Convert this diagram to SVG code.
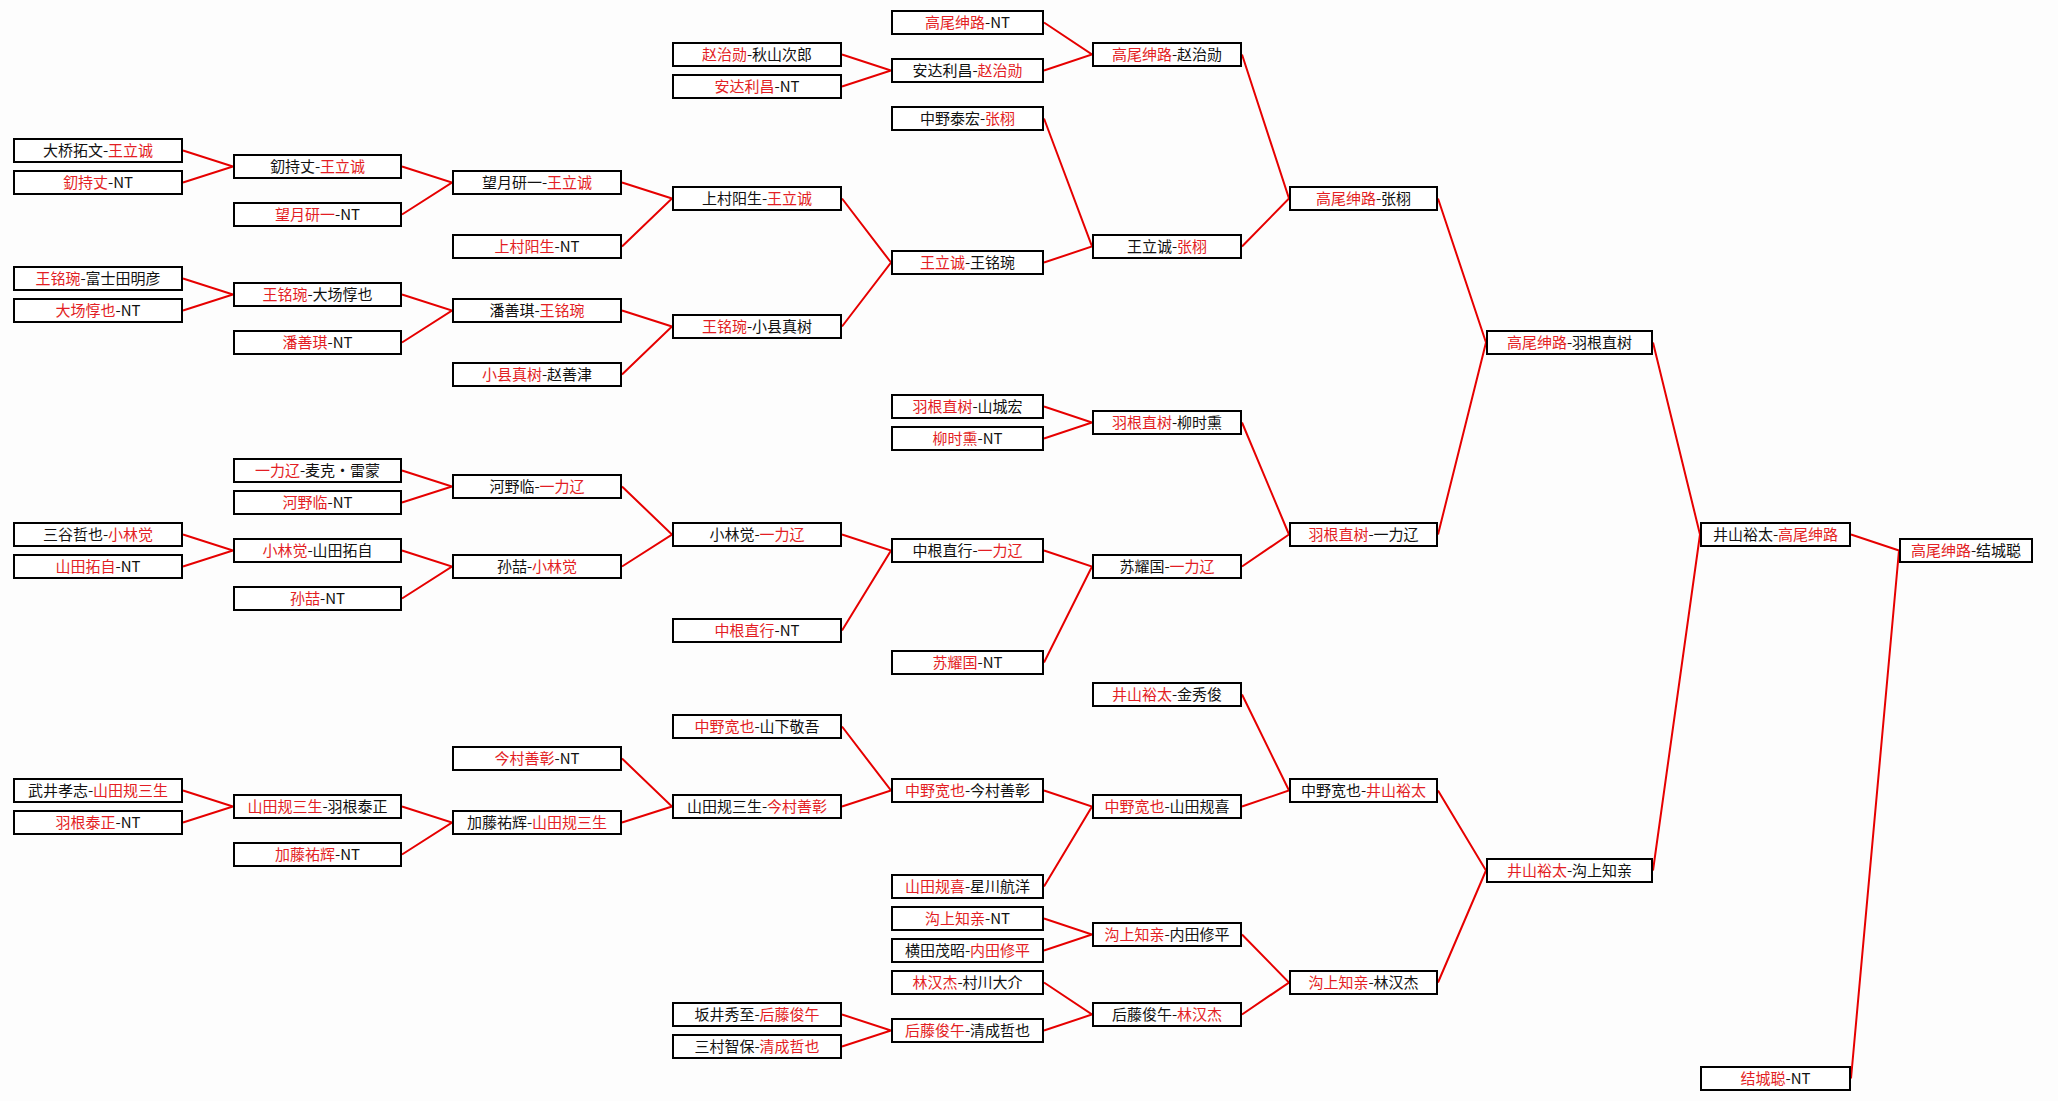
<svg xmlns="http://www.w3.org/2000/svg" width="2058" height="1101" viewBox="0 0 2058 1101">
<style>
.n rect{fill:#fff;stroke:#000;stroke-width:2}
.n text{font-family:"Noto Sans CJK SC","Noto Sans",sans-serif;font-size:15px;fill:#111;text-anchor:middle}
.n .r{fill:#e31e24}
.c path{fill:none;stroke:#e60000;stroke-width:2}
</style>
<rect x="0" y="0" width="2058" height="1101" fill="#fdfdfd"/>
<g id="connectors" class="c">
<path d="M183 150.5 L233 166.5 L183 182.5"/>
<path d="M183 278.5 L233 294.5 L183 310.5"/>
<path d="M183 534.5 L233 550.5 L183 566.5"/>
<path d="M183 790.5 L233 806.5 L183 822.5"/>
<path d="M402 166.5 L452 182.5 L402 214.5"/>
<path d="M402 294.5 L452 310.5 L402 342.5"/>
<path d="M402 470.5 L452 486.5 L402 502.5"/>
<path d="M402 550.5 L452 566.5 L402 598.5"/>
<path d="M402 806.5 L452 822.5 L402 854.5"/>
<path d="M622 182.5 L672 198.5 L622 246.5"/>
<path d="M622 310.5 L672 326.5 L622 374.5"/>
<path d="M622 486.5 L672 534.5 L622 566.5"/>
<path d="M622 758.5 L672 806.5 L622 822.5"/>
<path d="M842 54.5 L891 70.5 L842 86.5"/>
<path d="M842 198.5 L891 262.5 L842 326.5"/>
<path d="M842 534.5 L891 550.5 L842 630.5"/>
<path d="M842 726.5 L891 790.5 L842 806.5"/>
<path d="M842 1014.5 L891 1030.5 L842 1046.5"/>
<path d="M1044 22.5 L1092 54.5 L1044 70.5"/>
<path d="M1044 118.5 L1092 246.5 L1044 262.5"/>
<path d="M1044 406.5 L1092 422.5 L1044 438.5"/>
<path d="M1044 550.5 L1092 566.5 L1044 662.5"/>
<path d="M1044 790.5 L1092 806.5 L1044 886.5"/>
<path d="M1044 918.5 L1092 934.5 L1044 950.5"/>
<path d="M1044 982.5 L1092 1014.5 L1044 1030.5"/>
<path d="M1242 54.5 L1289 198.5 L1242 246.5"/>
<path d="M1242 422.5 L1289 534.5 L1242 566.5"/>
<path d="M1242 694.5 L1289 790.5 L1242 806.5"/>
<path d="M1242 934.5 L1289 982.5 L1242 1014.5"/>
<path d="M1438 198.5 L1486 342.5 L1438 534.5"/>
<path d="M1438 790.5 L1486 870.5 L1438 982.5"/>
<path d="M1653 342.5 L1700 534.5 L1653 870.5"/>
<path d="M1851 534.5 L1899 550.5 L1851 1078.5"/>
</g>
<g id="c1-08" class="n"><rect x="14" y="139" width="168" height="23"/><text x="98" y="156">大桥拓文-<tspan class="r">王立诚</tspan></text></g>
<g id="c1-10" class="n"><rect x="14" y="171" width="168" height="23"/><text x="98" y="188"><tspan class="r">釖持丈</tspan>-NT</text></g>
<g id="c1-16" class="n"><rect x="14" y="267" width="168" height="23"/><text x="98" y="284"><tspan class="r">王铭琬</tspan>-富士田明彦</text></g>
<g id="c1-18" class="n"><rect x="14" y="299" width="168" height="23"/><text x="98" y="316"><tspan class="r">大场惇也</tspan>-NT</text></g>
<g id="c1-32" class="n"><rect x="14" y="523" width="168" height="23"/><text x="98" y="540">三谷哲也-<tspan class="r">小林觉</tspan></text></g>
<g id="c1-34" class="n"><rect x="14" y="555" width="168" height="23"/><text x="98" y="572"><tspan class="r">山田拓自</tspan>-NT</text></g>
<g id="c1-48" class="n"><rect x="14" y="779" width="168" height="23"/><text x="98" y="796">武井孝志-<tspan class="r">山田规三生</tspan></text></g>
<g id="c1-50" class="n"><rect x="14" y="811" width="168" height="23"/><text x="98" y="828"><tspan class="r">羽根泰正</tspan>-NT</text></g>
<g id="c2-09" class="n"><rect x="234" y="155" width="167" height="23"/><text x="317.5" y="172">釖持丈-<tspan class="r">王立诚</tspan></text></g>
<g id="c2-12" class="n"><rect x="234" y="203" width="167" height="23"/><text x="317.5" y="220"><tspan class="r">望月研一</tspan>-NT</text></g>
<g id="c2-17" class="n"><rect x="234" y="283" width="167" height="23"/><text x="317.5" y="300"><tspan class="r">王铭琬</tspan>-大场惇也</text></g>
<g id="c2-20" class="n"><rect x="234" y="331" width="167" height="23"/><text x="317.5" y="348"><tspan class="r">潘善琪</tspan>-NT</text></g>
<g id="c2-28" class="n"><rect x="234" y="459" width="167" height="23"/><text x="317.5" y="476"><tspan class="r">一力辽</tspan>-麦克・雷蒙</text></g>
<g id="c2-30" class="n"><rect x="234" y="491" width="167" height="23"/><text x="317.5" y="508"><tspan class="r">河野临</tspan>-NT</text></g>
<g id="c2-33" class="n"><rect x="234" y="539" width="167" height="23"/><text x="317.5" y="556"><tspan class="r">小林觉</tspan>-山田拓自</text></g>
<g id="c2-36" class="n"><rect x="234" y="587" width="167" height="23"/><text x="317.5" y="604"><tspan class="r">孙喆</tspan>-NT</text></g>
<g id="c2-49" class="n"><rect x="234" y="795" width="167" height="23"/><text x="317.5" y="812"><tspan class="r">山田规三生</tspan>-羽根泰正</text></g>
<g id="c2-52" class="n"><rect x="234" y="843" width="167" height="23"/><text x="317.5" y="860"><tspan class="r">加藤祐辉</tspan>-NT</text></g>
<g id="c3-10" class="n"><rect x="453" y="171" width="168" height="23"/><text x="537" y="188">望月研一-<tspan class="r">王立诚</tspan></text></g>
<g id="c3-14" class="n"><rect x="453" y="235" width="168" height="23"/><text x="537" y="252"><tspan class="r">上村阳生</tspan>-NT</text></g>
<g id="c3-18" class="n"><rect x="453" y="299" width="168" height="23"/><text x="537" y="316">潘善琪-<tspan class="r">王铭琬</tspan></text></g>
<g id="c3-22" class="n"><rect x="453" y="363" width="168" height="23"/><text x="537" y="380"><tspan class="r">小县真树</tspan>-赵善津</text></g>
<g id="c3-29" class="n"><rect x="453" y="475" width="168" height="23"/><text x="537" y="492">河野临-<tspan class="r">一力辽</tspan></text></g>
<g id="c3-34" class="n"><rect x="453" y="555" width="168" height="23"/><text x="537" y="572">孙喆-<tspan class="r">小林觉</tspan></text></g>
<g id="c3-46" class="n"><rect x="453" y="747" width="168" height="23"/><text x="537" y="764"><tspan class="r">今村善彰</tspan>-NT</text></g>
<g id="c3-50" class="n"><rect x="453" y="811" width="168" height="23"/><text x="537" y="828">加藤祐辉-<tspan class="r">山田规三生</tspan></text></g>
<g id="c4-02" class="n"><rect x="673" y="43" width="168" height="23"/><text x="757" y="60"><tspan class="r">赵治勋</tspan>-秋山次郎</text></g>
<g id="c4-04" class="n"><rect x="673" y="75" width="168" height="23"/><text x="757" y="92"><tspan class="r">安达利昌</tspan>-NT</text></g>
<g id="c4-11" class="n"><rect x="673" y="187" width="168" height="23"/><text x="757" y="204">上村阳生-<tspan class="r">王立诚</tspan></text></g>
<g id="c4-19" class="n"><rect x="673" y="315" width="168" height="23"/><text x="757" y="332"><tspan class="r">王铭琬</tspan>-小县真树</text></g>
<g id="c4-32" class="n"><rect x="673" y="523" width="168" height="23"/><text x="757" y="540">小林觉-<tspan class="r">一力辽</tspan></text></g>
<g id="c4-38" class="n"><rect x="673" y="619" width="168" height="23"/><text x="757" y="636"><tspan class="r">中根直行</tspan>-NT</text></g>
<g id="c4-44" class="n"><rect x="673" y="715" width="168" height="23"/><text x="757" y="732"><tspan class="r">中野宽也</tspan>-山下敬吾</text></g>
<g id="c4-49" class="n"><rect x="673" y="795" width="168" height="23"/><text x="757" y="812">山田规三生-<tspan class="r">今村善彰</tspan></text></g>
<g id="c4-62" class="n"><rect x="673" y="1003" width="168" height="23"/><text x="757" y="1020">坂井秀至-<tspan class="r">后藤俊午</tspan></text></g>
<g id="c4-64" class="n"><rect x="673" y="1035" width="168" height="23"/><text x="757" y="1052">三村智保-<tspan class="r">清成哲也</tspan></text></g>
<g id="c5-00" class="n"><rect x="892" y="11" width="151" height="23"/><text x="967.5" y="28"><tspan class="r">高尾绅路</tspan>-NT</text></g>
<g id="c5-03" class="n"><rect x="892" y="59" width="151" height="23"/><text x="967.5" y="76">安达利昌-<tspan class="r">赵治勋</tspan></text></g>
<g id="c5-06" class="n"><rect x="892" y="107" width="151" height="23"/><text x="967.5" y="124">中野泰宏-<tspan class="r">张栩</tspan></text></g>
<g id="c5-15" class="n"><rect x="892" y="251" width="151" height="23"/><text x="967.5" y="268"><tspan class="r">王立诚</tspan>-王铭琬</text></g>
<g id="c5-24" class="n"><rect x="892" y="395" width="151" height="23"/><text x="967.5" y="412"><tspan class="r">羽根直树</tspan>-山城宏</text></g>
<g id="c5-26" class="n"><rect x="892" y="427" width="151" height="23"/><text x="967.5" y="444"><tspan class="r">柳时熏</tspan>-NT</text></g>
<g id="c5-33" class="n"><rect x="892" y="539" width="151" height="23"/><text x="967.5" y="556">中根直行-<tspan class="r">一力辽</tspan></text></g>
<g id="c5-40" class="n"><rect x="892" y="651" width="151" height="23"/><text x="967.5" y="668"><tspan class="r">苏耀国</tspan>-NT</text></g>
<g id="c5-48" class="n"><rect x="892" y="779" width="151" height="23"/><text x="967.5" y="796"><tspan class="r">中野宽也</tspan>-今村善彰</text></g>
<g id="c5-54" class="n"><rect x="892" y="875" width="151" height="23"/><text x="967.5" y="892"><tspan class="r">山田规喜</tspan>-星川航洋</text></g>
<g id="c5-56" class="n"><rect x="892" y="907" width="151" height="23"/><text x="967.5" y="924"><tspan class="r">沟上知亲</tspan>-NT</text></g>
<g id="c5-58" class="n"><rect x="892" y="939" width="151" height="23"/><text x="967.5" y="956">横田茂昭-<tspan class="r">内田修平</tspan></text></g>
<g id="c5-60" class="n"><rect x="892" y="971" width="151" height="23"/><text x="967.5" y="988"><tspan class="r">林汉杰</tspan>-村川大介</text></g>
<g id="c5-63" class="n"><rect x="892" y="1019" width="151" height="23"/><text x="967.5" y="1036"><tspan class="r">后藤俊午</tspan>-清成哲也</text></g>
<g id="c6-02" class="n"><rect x="1093" y="43" width="148" height="23"/><text x="1167" y="60"><tspan class="r">高尾绅路</tspan>-赵治勋</text></g>
<g id="c6-14" class="n"><rect x="1093" y="235" width="148" height="23"/><text x="1167" y="252">王立诚-<tspan class="r">张栩</tspan></text></g>
<g id="c6-25" class="n"><rect x="1093" y="411" width="148" height="23"/><text x="1167" y="428"><tspan class="r">羽根直树</tspan>-柳时熏</text></g>
<g id="c6-34" class="n"><rect x="1093" y="555" width="148" height="23"/><text x="1167" y="572">苏耀国-<tspan class="r">一力辽</tspan></text></g>
<g id="c6-42" class="n"><rect x="1093" y="683" width="148" height="23"/><text x="1167" y="700"><tspan class="r">井山裕太</tspan>-金秀俊</text></g>
<g id="c6-49" class="n"><rect x="1093" y="795" width="148" height="23"/><text x="1167" y="812"><tspan class="r">中野宽也</tspan>-山田规喜</text></g>
<g id="c6-57" class="n"><rect x="1093" y="923" width="148" height="23"/><text x="1167" y="940"><tspan class="r">沟上知亲</tspan>-内田修平</text></g>
<g id="c6-62" class="n"><rect x="1093" y="1003" width="148" height="23"/><text x="1167" y="1020">后藤俊午-<tspan class="r">林汉杰</tspan></text></g>
<g id="c7-11" class="n"><rect x="1290" y="187" width="147" height="23"/><text x="1363.5" y="204"><tspan class="r">高尾绅路</tspan>-张栩</text></g>
<g id="c7-32" class="n"><rect x="1290" y="523" width="147" height="23"/><text x="1363.5" y="540"><tspan class="r">羽根直树</tspan>-一力辽</text></g>
<g id="c7-48" class="n"><rect x="1290" y="779" width="147" height="23"/><text x="1363.5" y="796">中野宽也-<tspan class="r">井山裕太</tspan></text></g>
<g id="c7-60" class="n"><rect x="1290" y="971" width="147" height="23"/><text x="1363.5" y="988"><tspan class="r">沟上知亲</tspan>-林汉杰</text></g>
<g id="c8-20" class="n"><rect x="1487" y="331" width="165" height="23"/><text x="1569.5" y="348"><tspan class="r">高尾绅路</tspan>-羽根直树</text></g>
<g id="c8-53" class="n"><rect x="1487" y="859" width="165" height="23"/><text x="1569.5" y="876"><tspan class="r">井山裕太</tspan>-沟上知亲</text></g>
<g id="c9-32" class="n"><rect x="1701" y="523" width="149" height="23"/><text x="1775.5" y="540">井山裕太-<tspan class="r">高尾绅路</tspan></text></g>
<g id="c9-66" class="n"><rect x="1701" y="1067" width="149" height="23"/><text x="1775.5" y="1084"><tspan class="r">结城聪</tspan>-NT</text></g>
<g id="c10-33" class="n"><rect x="1900" y="539" width="132" height="23"/><text x="1966" y="556"><tspan class="r">高尾绅路</tspan>-结城聪</text></g>
</svg>
